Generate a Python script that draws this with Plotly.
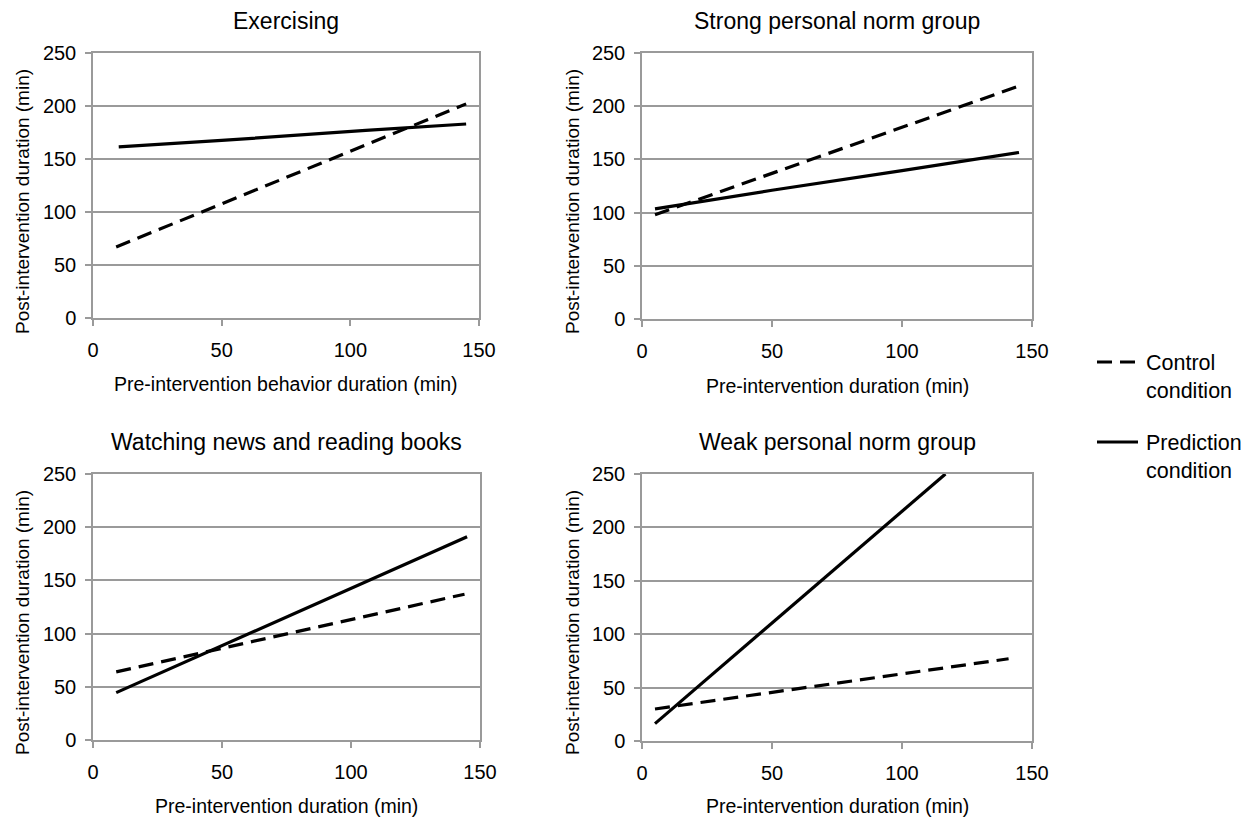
import plotly.graph_objects as go

# ---- data ----
titles = ["Exercising", "Strong personal norm group",
          "Watching news and reading books", "Weak personal norm group"]
xtitles = ["Pre-intervention behavior duration (min)", "Pre-intervention duration (min)",
           "Pre-intervention duration (min)", "Pre-intervention duration (min)"]
ytitle = "Post-intervention duration (min)"

ex_x_control = [9, 145]
ex_y_control = [67, 202]
ex_x_pred = [10, 50, 106, 145]
ex_y_pred = [161.5, 167.5, 177, 183]

st_x_control = [5, 145]
st_y_control = [98, 219]
st_x_pred = [5, 50, 100, 145]
st_y_pred = [103.5, 121, 139.5, 156.5]

wn_x_control = [9, 144]
wn_y_control = [64, 137]
wn_x_pred = [9, 145]
wn_y_pred = [44.5, 191]

wk_x_control = [5, 141]
wk_y_control = [30, 77]
wk_x_pred = [5, 116.7]
wk_y_pred = [16.3, 250]

x_ticks = [0, 50, 100, 150]
y_ticks = [0, 50, 100, 150, 200, 250]

panels = [
    (ex_x_control, ex_y_control, ex_x_pred, ex_y_pred),
    (st_x_control, st_y_control, st_x_pred, st_y_pred),
    (wn_x_control, wn_y_control, wn_x_pred, wn_y_pred),
    (wk_x_control, wk_y_control, wk_x_pred, wk_y_pred),
]

W, H = 1253, 817
# plot-area pixel boxes (left, right, top, bottom)
boxes = [(93, 479, 53, 318), (642, 1032, 53, 319), (93, 480, 474, 740), (642, 1032, 474, 741)]
# axis-title pixel centres: (x-title y, y-title x, y-title y)
title_pos = [(384, 22, 202), (386, 572, 202), (806, 22, 623), (806, 572, 623)]

FONT = "Liberation Sans, Arial, sans-serif"
GRID = "#9a9a9a"

fig = go.Figure()
layout = dict(
    width=W, height=H, margin=dict(l=0, r=0, t=0, b=0, autoexpand=False),
    paper_bgcolor="white", plot_bgcolor="white", showlegend=False,
    font=dict(family=FONT, color="black"),
)
annotations = []
for i, (xc, yc, xp, yp) in enumerate(panels):
    n = "" if i == 0 else str(i + 1)
    l, r, t, b = boxes[i]
    xd = [l / W, r / W]
    yd = [1 - b / H, 1 - t / H]
    layout["xaxis" + n] = dict(
        domain=xd, range=[0, 150], tickvals=x_ticks, anchor="y" + n,
        showgrid=False, zeroline=False, showline=True, linecolor=GRID, linewidth=1.5,
        mirror=True, ticks="outside", ticklen=6, tickcolor=GRID, tickwidth=1.5,
        tickfont=dict(size=20, family=FONT, color="black"), ticklabelstandoff=7,
        automargin=False, fixedrange=True,
    )
    layout["yaxis" + n] = dict(
        domain=yd, range=[0, 250], tickvals=y_ticks, anchor="x" + n,
        showgrid=True, gridcolor=GRID, gridwidth=1.5, zeroline=False,
        showline=True, linecolor=GRID, linewidth=1.5, mirror=True,
        ticks="outside", ticklen=6, tickcolor=GRID, tickwidth=1.5,
        tickfont=dict(size=20, family=FONT, color="black"), ticklabelstandoff=5,
        automargin=False, fixedrange=True,
    )
    fig.add_trace(go.Scatter(x=xc, y=yc, mode="lines", xaxis="x" + n, yaxis="y" + n,
                             line=dict(color="black", width=3.2, dash="15px,8px"),
                             name="Control condition", cliponaxis=True))
    fig.add_trace(go.Scatter(x=xp, y=yp, mode="lines", xaxis="x" + n, yaxis="y" + n,
                             line=dict(color="black", width=3.2),
                             name="Prediction condition", cliponaxis=True))
    annotations.append(dict(
        text=titles[i], xref="paper", yref="paper",
        x=(l + r) / 2 / W, y=1 - (t - 32) / H, xanchor="center", yanchor="middle",
        showarrow=False, font=dict(size=23, family=FONT, color="black"),
    ))
    xty, ytx, yty = title_pos[i]
    annotations.append(dict(
        text=xtitles[i], xref="paper", yref="paper",
        x=(l + r) / 2 / W, y=1 - xty / H, xanchor="center", yanchor="middle",
        showarrow=False, font=dict(size=19.5, family=FONT, color="black"),
    ))
    annotations.append(dict(
        text=ytitle, xref="paper", yref="paper", textangle=-90,
        x=ytx / W, y=1 - yty / H, xanchor="center", yanchor="middle",
        showarrow=False, font=dict(size=19, family=FONT, color="black"),
    ))

# legend drawn as shapes + text
legend_items = [("Control condition", "15px,8px", 362), ("Prediction condition", "solid", 442)]
shapes = []
for name, dash, ypx in legend_items:
    shapes.append(dict(type="line", xref="paper", yref="paper",
                       x0=1097 / W, x1=1138 / W, y0=1 - ypx / H, y1=1 - ypx / H,
                       line=dict(color="black", width=3.2, dash=dash)))
    w1, w2 = name.split(" ")
    annotations.append(dict(text=w1 + "<br>" + w2, xref="paper", yref="paper",
                            x=1144 / W, y=1 - (ypx - 13) / H, xanchor="left", yanchor="top",
                            align="left", showarrow=False,
                            font=dict(size=21.5, family=FONT, color="black")))

layout["annotations"] = annotations
layout["shapes"] = shapes
fig.update_layout(**layout)
fig.write_html("out.html", config={"displayModeBar": False},
               post_script="document.body.style.margin='0';document.body.style.overflow='hidden';")
